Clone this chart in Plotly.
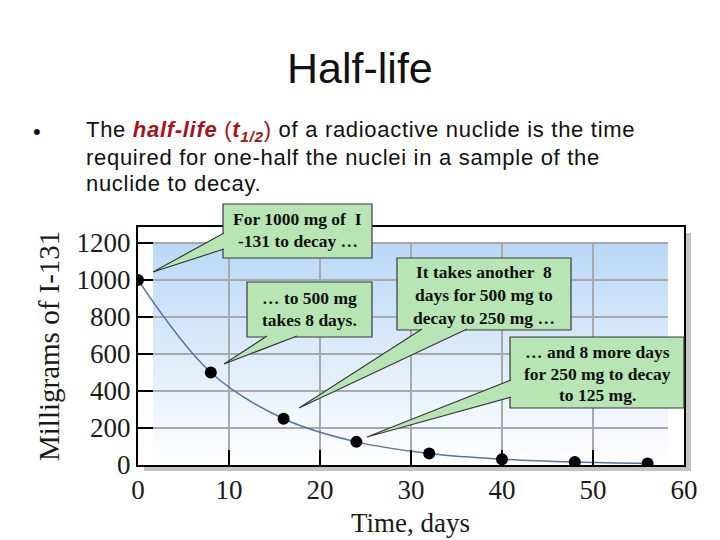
import plotly.graph_objects as go
import base64

# ---- data ----
days = [0, 8, 16, 24, 32, 40, 48, 56]
mg_i131 = [1000, 500, 250, 125, 62.5, 31.25, 15.6, 7.8]
x_ticks = [0, 10, 20, 30, 40, 50, 60]
y_ticks = [0, 200, 400, 600, 800, 1000, 1200]

OFF = 8  # page body margin
W, H = 720 - OFF, 540 - OFF
L, R, T, B = 138, 684, 227, 465  # plot area in window pixels
PW, PH = R - L, B - T


def px(x):
    return (x - L) / PW


def py(y):
    return (B - y) / PH


SERIF = "Liberation Serif, Times New Roman, serif"
SANS = "Liberation Sans, Arial, sans-serif"
GREEN = "#b7e5b4"
EDGE = "#3a3a3a"
RED = "#a3141c"

fig = go.Figure()
fig.add_trace(go.Scatter(
    x=days, y=mg_i131, mode="lines+markers",
    line=dict(color="#5773a3", width=1.5, shape="spline", smoothing=1.0),
    marker=dict(color="black", size=12),
    hoverinfo="x+y", showlegend=False,
))

shapes = []
images = []

# gradient background (svg data uri)
svg = ('<svg xmlns="http://www.w3.org/2000/svg" width="100" height="100" preserveAspectRatio="none">'
       '<defs><linearGradient id="g" x1="0" y1="0" x2="0" y2="1">'
       '<stop offset="0" stop-color="#bad8f6"/><stop offset="1" stop-color="#ffffff"/>'
       '</linearGradient></defs><rect width="100" height="100" fill="url(#g)"/></svg>')
uri = "data:image/svg+xml;base64," + base64.b64encode(svg.encode()).decode()
images.append(dict(source=uri, xref="paper", yref="paper", x=px(153), y=py(243),
                   sizex=px(668) - px(153), sizey=py(243) - py(465),
                   xanchor="left", yanchor="top", sizing="stretch", layer="below"))

# grid lines
for v in y_ticks[1:]:
    shapes.append(dict(type="line", xref="paper", yref="y", x0=px(153), x1=px(668), y0=v, y1=v,
                       line=dict(color="#a9a9a9", width=2), layer="below"))
for v in x_ticks[1:-1]:
    shapes.append(dict(type="line", xref="x", yref="paper", x0=v, x1=v, y0=0, y1=py(243),
                       line=dict(color="#a9a9a9", width=2), layer="below"))

# frame shadow
shapes.append(dict(type="rect", xref="paper", yref="paper", x0=px(685), x1=px(691), y0=py(471), y1=py(233),
                   fillcolor="#c4c4c4", line=dict(width=0), layer="below"))
shapes.append(dict(type="rect", xref="paper", yref="paper", x0=px(144), x1=px(691), y0=py(471), y1=py(465),
                   fillcolor="#c4c4c4", line=dict(width=0), layer="below"))

annotations = []


def callout(box, base1, base2, tip, lines, ys):
    x0, y0, x1, y1 = box
    shapes.append(dict(type="rect", xref="paper", yref="paper", x0=px(x0), x1=px(x1), y0=py(y1), y1=py(y0),
                       fillcolor=GREEN, line=dict(color=EDGE, width=1.2)))
    path = "M {:.4f},{:.4f} L {:.4f},{:.4f} L {:.4f},{:.4f}".format(
        px(base1[0]), py(base1[1]), px(tip[0]), py(tip[1]), px(base2[0]), py(base2[1]))
    shapes.append(dict(type="path", xref="paper", yref="paper", path=path,
                       fillcolor=GREEN, line=dict(color=EDGE, width=1.2)))
    cx = (x0 + x1) / 2
    for txt, yy in zip(lines, ys):
        annotations.append(dict(xref="paper", yref="paper", x=px(cx), y=py(yy), text="<b>" + txt + "</b>",
                                showarrow=False, xanchor="center", yanchor="middle",
                                font=dict(family=SERIF, size=17.5, color="#111111")))


callout((223, 204, 372, 258), (224, 233), (224, 249), (153, 272),
        ["For 1000 mg of  I", "-131 to decay …"], [219, 241])
callout((247, 282, 372, 337), (267, 336), (297, 336), (224, 364),
        ["… to 500 mg", "takes 8 days."], [298, 320])
callout((397, 258, 571, 330), (422, 329), (467, 329), (299, 408),
        ["It takes another  8", "days for 500 mg to", "decay to 250 mg …"], [272, 295, 318])
callout((510, 337, 684, 408), (511, 380), (511, 397), (367, 437),
        ["… and 8 more days", "for 250 mg to decay", "to 125 mg."], [352, 374, 395])

# titles and text
annotations.append(dict(xref="paper", yref="paper", x=px(360), y=py(68), text="Half-life", showarrow=False,
                        xanchor="center", yanchor="middle", font=dict(family=SANS, size=43, color="#111111")))
annotations.append(dict(xref="paper", yref="paper", x=px(31), y=py(131), text="•", showarrow=False,
                        xanchor="left", yanchor="middle", font=dict(family=SANS, size=22, color="#111111")))
SP = "<span style='letter-spacing:0.7px'>%s</span>"
line1 = ("The <span style='color:%s'><b><i>half-life</i></b> (<b><i>t</i></b><sub><b><i>1/2</i></b></sub>)</span>"
         " of a radioactive nuclide is the time") % RED
blines = [line1, "required for one-half the nuclei in a sample of the", "nuclide to decay."]
for txt, yy in zip(blines, [131, 157, 183]):
    annotations.append(dict(xref="paper", yref="paper", x=px(84), y=py(yy), text=SP % txt, showarrow=False,
                            xanchor="left", yanchor="middle", font=dict(family=SANS, size=22, color="#111111")))
annotations.append(dict(xref="paper", yref="paper", x=px(49), y=py(346), text="Milligrams of I-131",
                        showarrow=False, textangle=-90, xanchor="center", yanchor="middle",
                        font=dict(family=SERIF, size=29, color="#1a1a1a")))
annotations.append(dict(xref="paper", yref="paper", x=px(410), y=py(523), text="Time, days",
                        showarrow=False, xanchor="center", yanchor="middle",
                        font=dict(family=SERIF, size=27, color="#1a1a1a")))

fig.update_layout(
    width=W, height=H,
    margin=dict(l=L - OFF, r=W - (R - OFF), t=T - OFF, b=H - (B - OFF), pad=0),
    paper_bgcolor="white", plot_bgcolor="white",
    shapes=shapes, images=images, annotations=annotations,
    showlegend=False,
)
fig.update_xaxes(range=[0, 60], tickvals=x_ticks, ticks="inside", ticklen=15, tickwidth=2, tickcolor="black",
                 showline=True, linecolor="black", linewidth=2, mirror=True, showgrid=False, zeroline=False,
                 tickfont=dict(family=SERIF, size=27, color="#1a1a1a"), fixedrange=True)
fig.update_yaxes(range=[0, 1286], tickvals=y_ticks, ticks="inside", ticklen=15, tickwidth=2, tickcolor="black",
                 showline=True, linecolor="black", linewidth=2, mirror=True, showgrid=False, zeroline=False,
                 tickfont=dict(family=SERIF, size=27, color="#1a1a1a"), fixedrange=True)

fig.write_html("out.html")
